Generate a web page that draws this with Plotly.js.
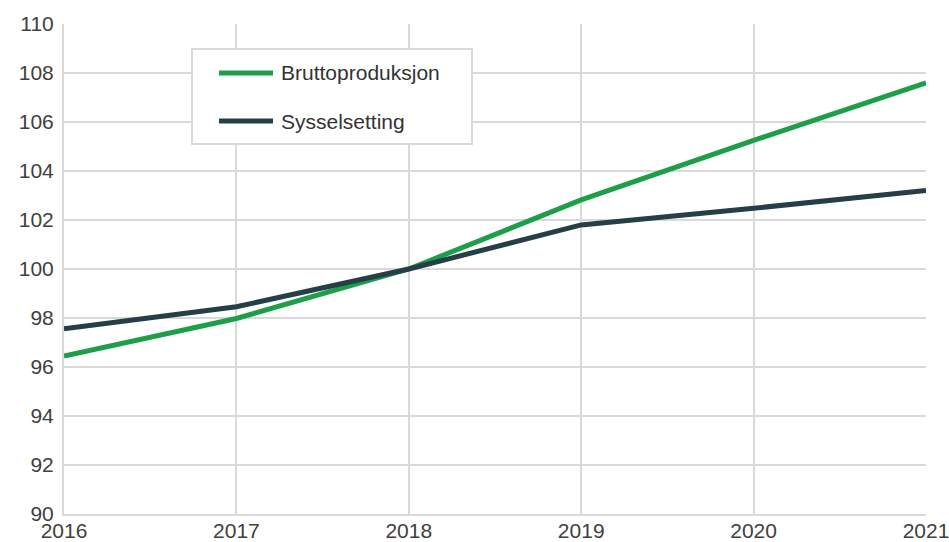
<!DOCTYPE html>
<html>
<head>
<meta charset="utf-8">
<script src="https://cdn.plot.ly/plotly-3.0.1.min.js"></script>
<style>html,body{margin:0;padding:0;background:#fff;}#chart{width:949px;height:542px;}</style>
</head>
<body>
<div id="chart"></div>
<script>
const years = [2016, 2017, 2018, 2019, 2020, 2021];
const bruttoproduksjon = [96.45, 97.98, 100.0, 102.82, 105.25, 107.6];
const sysselsetting = [97.56, 98.46, 100.0, 101.8, 102.48, 103.2];
const yTicks = [90, 92, 94, 96, 98, 100, 102, 104, 106, 108, 110];
const seriesNames = ['Bruttoproduksjon', 'Sysselsetting'];
const seriesColors = ['#1d9e48', '#243f45'];

const traces = [
  {x: years, y: bruttoproduksjon, name: seriesNames[0], type: 'scatter', mode: 'lines',
   line: {color: seriesColors[0], width: 5}},
  {x: years, y: sysselsetting, name: seriesNames[1], type: 'scatter', mode: 'lines',
   line: {color: seriesColors[1], width: 5}}
];

// Legend box drawn in paper coordinates
const legX0 = 0.1485, legX1 = 0.4733, legY0 = 0.7551, legY1 = 0.949;
const legRows = [0.9, 0.802];
const shapes = [
  {type: 'rect', xref: 'paper', yref: 'paper', x0: legX0, x1: legX1, y0: legY0, y1: legY1,
   fillcolor: '#fff', line: {color: '#d9d9d9', width: 2}, layer: 'above'}
];
const annotations = [];
seriesNames.forEach((n, i) => {
  shapes.push({type: 'line', xref: 'paper', yref: 'paper', x0: 0.1798, x1: 0.2425,
    y0: legRows[i], y1: legRows[i], line: {color: seriesColors[i], width: 5}, layer: 'above'});
  annotations.push({xref: 'paper', yref: 'paper', x: 0.2494, y: legRows[i], xanchor: 'left',
    yanchor: 'middle', text: n, showarrow: false, font: {size: 21, color: '#333'}});
});

const layout = {
  width: 949, height: 542,
  margin: {l: 64, r: 23, t: 24, b: 28},
  paper_bgcolor: '#fff', plot_bgcolor: '#fff',
  font: {family: 'Liberation Sans, Arial, sans-serif', size: 21, color: '#404040'},
  showlegend: false,
  shapes: shapes,
  annotations: annotations,
  xaxis: {
    range: [2016, 2021], tickvals: years, ticktext: years.map(String),
    showgrid: true, gridcolor: '#d9d9d9', gridwidth: 2,
    showline: true, linecolor: '#d9d9d9', linewidth: 2,
    zeroline: false, ticks: '', ticklabelstandoff: -3, ticklabeloverflow: 'allow',
    tickfont: {size: 21, color: '#404040'}
  },
  yaxis: {
    range: [90, 110], tickvals: yTicks, ticktext: yTicks.map(String),
    showgrid: true, gridcolor: '#d9d9d9', gridwidth: 2,
    showline: true, linecolor: '#d9d9d9', linewidth: 2,
    zeroline: false, ticks: '', ticklabelstandoff: 4, tickfont: {size: 21, color: '#404040'}
  }
};

Plotly.newPlot('chart', traces, layout, {displayModeBar: false, staticPlot: true});
</script>
</body>
</html>
